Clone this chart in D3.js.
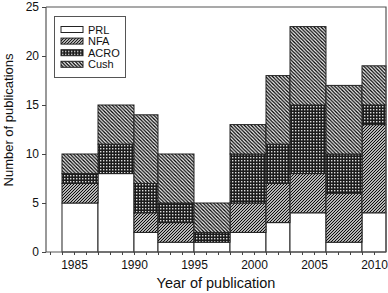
<!DOCTYPE html>
<html>
<head>
<meta charset="utf-8">
<script src="https://cdn.jsdelivr.net/npm/d3@7/dist/d3.min.js"></script>
<style>
  body { margin: 0; background: #fff; }
  svg { display: block; font-family: "Liberation Sans", Arial, Helvetica, sans-serif; }
</style>
</head>
<body>
<div id="chart"></div>
<script>
// bins (year ranges) and counts per category
var binStart = [1984, 1987, 1990, 1992, 1995, 1998, 2001, 2003, 2006, 2009];
var binEnd   = [1987, 1990, 1992, 1995, 1998, 2001, 2003, 2006, 2009, 2011];
var prl  = [5, 8, 2, 1, 1, 2, 3, 4, 1, 4];
var nfa  = [2, 0, 2, 2, 0, 3, 4, 4, 5, 9];
var acro = [1, 3, 3, 2, 1, 5, 4, 7, 4, 2];
var cush = [2, 4, 7, 5, 3, 3, 7, 8, 7, 4];
var categories = ["PRL", "NFA", "ACRO", "Cush"];
var xTickYears = [1985, 1990, 1995, 2000, 2005, 2010];
var yTicks = [0, 5, 10, 15, 20, 25];

var width = 388, height = 293;
var margin = {top: 7, right: 2, bottom: 41, left: 46};

var svg = d3.select("#chart").append("svg")
    .attr("width", width)
    .attr("height", height);

// fill patterns
var defs = svg.append("defs");

var pNfa = defs.append("pattern")
    .attr("id", "p-nfa")
    .attr("patternUnits", "userSpaceOnUse")
    .attr("width", 3).attr("height", 3);
pNfa.append("rect").attr("width", 3).attr("height", 3).attr("fill", "#fff");
pNfa.append("path")
    .attr("d", "M-1,1 L1,-1 M0,3 L3,0 M2,4 L4,2")
    .attr("stroke", "#000").attr("stroke-width", 1.1);

var pCush = defs.append("pattern")
    .attr("id", "p-cush")
    .attr("patternUnits", "userSpaceOnUse")
    .attr("width", 3.5).attr("height", 3.5);
pCush.append("rect").attr("width", 3.5).attr("height", 3.5).attr("fill", "#fff");
pCush.append("path")
    .attr("d", "M-1,2.5 L1,4.5 M0,0 L3.5,3.5 M2.5,-1 L4.5,1")
    .attr("stroke", "#000").attr("stroke-width", 1.3);

var pAcro = defs.append("pattern")
    .attr("id", "p-acro")
    .attr("patternUnits", "userSpaceOnUse")
    .attr("width", 3).attr("height", 3);
pAcro.append("rect").attr("width", 3).attr("height", 3).attr("fill", "#1c1c1c");
pAcro.append("rect").attr("x", 1).attr("y", 1).attr("width", 1.4).attr("height", 1.4).attr("fill", "#dcdcdc");

var fills = {PRL: "#fff", NFA: "url(#p-nfa)", ACRO: "url(#p-acro)", Cush: "url(#p-cush)"};

var x = d3.scaleLinear()
    .domain([1982.667, 2011])
    .range([margin.left, width - margin.right]);

var y = d3.scaleLinear()
    .domain([0, 25])
    .range([height - margin.bottom, margin.top]);

// build table for stacking
var table = binStart.map(function(d, i) {
    return {start: d, end: binEnd[i], PRL: prl[i], NFA: nfa[i], ACRO: acro[i], Cush: cush[i]};
});

var stack = d3.stack().keys(categories);
var series = stack(table);

var layers = svg.append("g").attr("class", "bars")
    .selectAll("g")
    .data(series)
    .enter().append("g")
    .attr("fill", function(d) { return fills[d.key]; });

layers.selectAll("rect")
    .data(function(d) { return d.filter(function(s) { return s[1] > s[0]; }); })
    .enter().append("rect")
    .attr("x", function(d) { return x(d.data.start); })
    .attr("width", function(d) { return x(d.data.end) - x(d.data.start); })
    .attr("y", function(d) { return y(d[1]); })
    .attr("height", function(d) { return y(d[0]) - y(d[1]); })
    .attr("stroke", "#222")
    .attr("stroke-width", 1);

// frame (top and right)
svg.append("path")
    .attr("d", "M" + x.range()[0] + "," + y(25) + "H" + x.range()[1] + "V" + y(0))
    .attr("fill", "none")
    .attr("stroke", "#555")
    .attr("stroke-width", 1.2);

// x axis
var xAxis = svg.append("g")
    .attr("transform", "translate(0," + y(0) + ")")
    .call(d3.axisBottom(x)
        .tickValues(d3.range(1983, 2011))
        .tickSize(3)
        .tickFormat(function(d) { return xTickYears.indexOf(d) >= 0 ? d : ""; }));
xAxis.select(".domain").attr("stroke", "#555").attr("stroke-width", 1.2)
    .attr("d", "M" + x.range()[0] + ",0H" + x.range()[1]);
xAxis.selectAll(".tick line").attr("stroke", "#444");
xAxis.selectAll("text")
    .attr("fill", "#111")
    .style("font-size", "12px")
    .attr("dy", "0.95em");

// y axis
var yAxis = svg.append("g")
    .attr("transform", "translate(" + x.range()[0] + ",0)")
    .call(d3.axisLeft(y).tickValues(yTicks).tickSize(4).tickPadding(3));
yAxis.select(".domain").attr("stroke", "#555").attr("stroke-width", 1.2)
    .attr("d", "M0," + y(0) + "V" + y(25));
yAxis.selectAll(".tick line").attr("stroke", "#444");
yAxis.selectAll("text")
    .attr("fill", "#111")
    .style("font-size", "12px");

// axis titles
svg.append("text")
    .attr("x", 216)
    .attr("y", 288)
    .attr("text-anchor", "middle")
    .style("font-size", "14.5px")
    .attr("fill", "#111")
    .text("Year of publication");

svg.append("text")
    .attr("transform", "translate(13,120) rotate(-90)")
    .attr("text-anchor", "middle")
    .style("font-size", "13px")
    .attr("fill", "#111")
    .text("Number of publications");

// legend
var legendBox = svg.append("g").attr("class", "legend");
legendBox.append("rect")
    .attr("x", 54.5).attr("y", 16.5)
    .attr("width", 71).attr("height", 61)
    .attr("fill", "#fff")
    .attr("stroke", "#555");

var legend = legendBox.selectAll(".leg")
    .data(categories)
    .enter().append("g")
    .attr("class", "leg")
    .attr("transform", function(d, i) { return "translate(61," + (26.5 + i * 11.6) + ")"; });

legend.append("rect")
    .attr("width", 22)
    .attr("height", 6)
    .attr("fill", function(d) { return fills[d]; })
    .attr("stroke", "#222");

legend.append("text")
    .attr("x", 27)
    .attr("y", 7)
    .style("font-size", "11px")
    .attr("fill", "#111")
    .text(function(d) { return d; });
</script>
</body>
</html>
